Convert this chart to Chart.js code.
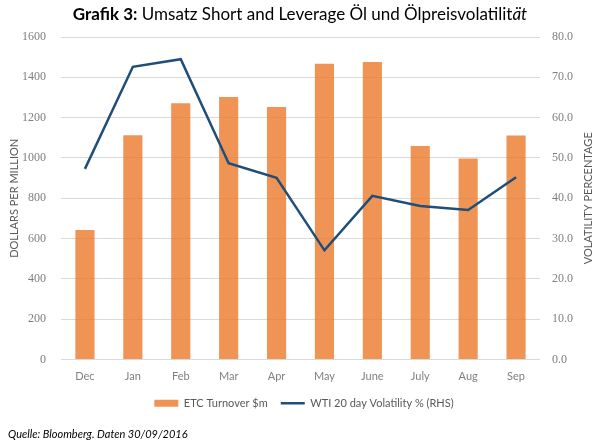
<!DOCTYPE html>
<html>
<head>
<meta charset="utf-8">
<script src="https://cdn.jsdelivr.net/npm/chart.js@4"></script>
<style>
  body { margin: 0; background: #fff; }
  #wrap { position: relative; width: 600px; height: 443px; }
  #title { position: absolute; top: 3px; left: 0; width: 600px; text-align: center;
           font-family: Lato, sans-serif; font-size: 17px; color: #000; }
</style>
</head>
<body>
<div id="wrap">
  <div id="title"><b>Grafik 3:</b> Umsatz Short and Leverage Öl und Ölpreisvolatilit<i>ät</i></div>
  <canvas id="chart" width="600" height="443"></canvas>
</div>
<script>
const months = ["Dec", "Jan", "Feb", "Mar", "Apr", "May", "June", "July", "Aug", "Sep"];

const turnover = [643, 1113, 1271, 1302, 1253, 1467, 1476, 1060, 997, 1112];

const volatility = [47.3, 72.6, 74.5, 48.7, 45.1, 27.1, 40.6, 38.1, 37.1, 45.2];

const grey = "#7f7f7f";

const rightTitle = "VOLATILITY PERCENTAGE";

// right axis title reads bottom-to-top like the left one, so draw it by hand
const rightTitlePlugin = {
    id: "rightTitle",
    afterDraw(chart) {
        const ctx = chart.ctx;
        const area = chart.chartArea;
        ctx.save();
        ctx.translate(588, (area.top + area.bottom) / 2);
        ctx.rotate(-Math.PI / 2);
        ctx.font = "11px Lato, sans-serif";
        ctx.fillStyle = "#595959";
        ctx.textAlign = "center";
        ctx.textBaseline = "middle";
        ctx.fillText(rightTitle, 0, 0);
        ctx.restore();
    }
};

const chart = new Chart(document.getElementById("chart"), {
    data: {
        labels: months,
        datasets: [{
            type: "line",
            label: "WTI 20 day Volatility % (RHS)",
            data: volatility,
            yAxisID: "y1",
            borderColor: "#1f4e79",
            backgroundColor: "#1f4e79",
            borderWidth: 2.5,
            pointRadius: 0,
            pointStyle: "line",
            tension: 0,
            order: 0
        }, {
            type: "bar",
            label: "ETC Turnover $m",
            data: turnover,
            yAxisID: "y",
            backgroundColor: "rgba(237,125,49,0.82)",
            borderWidth: 0,
            pointStyle: "rect",
            barPercentage: 0.4,
            categoryPercentage: 1,
            order: 1
        }]
    },
    options: {
        responsive: false,
        animation: false,
        layout: { padding: { top: 37, left: 8, right: 0, bottom: 0 } },
        plugins: {
            legend: {
                position: "bottom",
                reverse: true,
                labels: {
                    usePointStyle: true,
                    pointStyleWidth: 24,
                    boxHeight: 7,
                    padding: 13,
                    color: "#595959",
                    font: { family: "Lato, sans-serif", size: 11 }
                }
            },
            subtitle: {
                display: true,
                position: "bottom",
                align: "start",
                text: "Quelle: Bloomberg. Daten 30/09/2016",
                color: "#000",
                font: { family: "Lato, sans-serif", size: 11, style: "italic" },
                padding: { top: 9, bottom: 2 }
            },
            tooltip: { enabled: false }
        },
        scales: {
            x: {
                grid: { display: false },
                border: { display: false },
                ticks: { color: grey, font: { family: "Lato, sans-serif", size: 11 }, padding: 2 }
            },
            y: {
                position: "left",
                min: 0,
                max: 1600,
                afterFit: scale => { scale.width = 53; },
                ticks: { stepSize: 200, color: grey, padding: 15,
                         font: { family: "Liberation Serif, serif", size: 12 },
                         callback: v => String(v) },
                grid: { color: "#d9d9d9", lineWidth: 1, drawTicks: false },
                border: { display: false },
                title: { display: true, text: "DOLLARS PER MILLION", color: "#595959",
                         font: { family: "Lato, sans-serif", size: 11 }, padding: 0 }
            },
            y1: {
                position: "right",
                min: 0,
                max: 80,
                afterFit: scale => { scale.width = 60; },
                ticks: { stepSize: 10, color: grey, padding: 12,
                         font: { family: "Liberation Serif, serif", size: 12 },
                         callback: v => v.toFixed(1) },
                grid: { display: false, drawTicks: false },
                border: { display: false },
                title: { display: false }
            }
        }
    },
    plugins: [rightTitlePlugin]
});
</script>
</body>
</html>
